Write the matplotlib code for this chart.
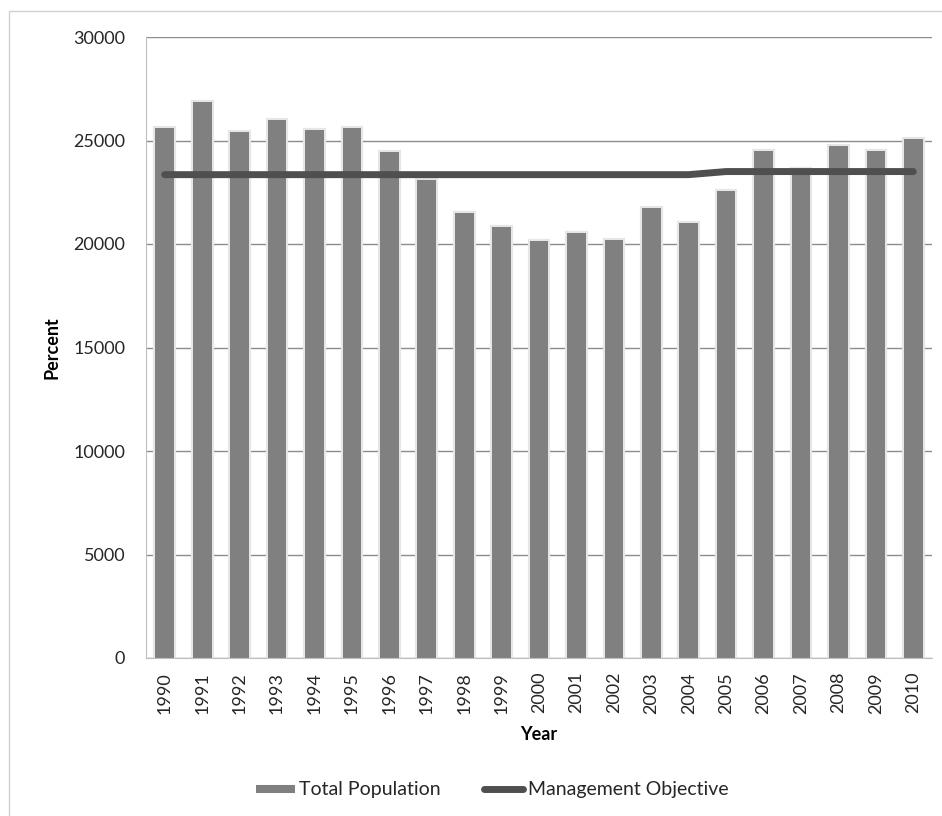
import matplotlib
matplotlib.use("Agg")
import matplotlib.pyplot as plt
import matplotlib.patheffects as pe
from matplotlib.patches import Rectangle
from matplotlib.lines import Line2D
import numpy as np

years = [str(y) for y in range(1990, 2011)]
total_population = [25600, 26850, 25420, 26000, 25520, 25620, 24450, 23090,
                    21480, 20840, 20160, 20550, 20210, 21720, 21030, 22560,
                    24490, 23600, 24750, 24490, 25080]
management_objective = [23350] * 15 + [23500] * 6
y_ticks = [0, 5000, 10000, 15000, 20000, 25000, 30000]

plt.rcParams['font.family'] = ['Lato', 'DejaVu Sans']

BAR_COLOR = '#808080'
LINE_COLOR = '#4f4f4f'
TEXT_COLOR = '#262626'

fig = plt.figure(figsize=(9.42, 8.16), dpi=100)
ax = fig.add_axes([146/942, 1 - 658/816, (932 - 146)/942, (658 - 37)/816])

x = np.arange(len(years))
bars = ax.bar(x, total_population, width=0.5, color=BAR_COLOR, zorder=2)
for b in bars:
    b.set_path_effects([pe.withStroke(linewidth=3, foreground='#e6e6e6')])

ax.plot(x, management_objective, color=LINE_COLOR, lw=5,
        solid_capstyle='round', zorder=3)

ax.set_xlim(-0.5, len(years) - 0.5)
ax.set_ylim(0, 30000)
ax.set_yticks(y_ticks)
ax.set_yticklabels([str(v) for v in y_ticks], fontsize=13, color=TEXT_COLOR)
ax.set_xticks(x)
ax.set_xticklabels(years, rotation=90, fontsize=13, color=TEXT_COLOR)
ax.tick_params(axis='y', length=0, pad=15)
ax.tick_params(axis='x', length=0, pad=10)
ax.yaxis.grid(True, color='#8c8c8c', lw=1.0, zorder=0)
ax.set_axisbelow(True)

for side in ['top', 'right']:
    ax.spines[side].set_visible(False)
ax.spines['left'].set_color('#bfbfbf')
ax.spines['bottom'].set_color('#bfbfbf')

ax.set_ylabel('Percent', fontsize=13, fontweight='bold', labelpad=9,
              color='black')
ax.set_xlabel('Year', fontsize=13, fontweight='bold', labelpad=9,
              color='black')

handles = [Line2D([0], [0], color=BAR_COLOR, lw=5.8, solid_capstyle='butt'),
           Line2D([0], [0], color=LINE_COLOR, lw=5, solid_capstyle='round')]
fig.legend(handles, ['Total Population', 'Management Objective'],
           loc='center', bbox_to_anchor=(492/942, 1 - 790/816), ncol=2,
           frameon=False, fontsize=14, handlelength=2.0, handletextpad=0.25,
           columnspacing=2.2, labelcolor=TEXT_COLOR)

# light outer frame around the chart area
fig.add_artist(Rectangle((9/942, -0.1), 1.2, (816 - 11)/816 + 0.1,
                         transform=fig.transFigure, fill=False,
                         edgecolor='#d0d0d0', lw=1.0, clip_on=False))

fig.savefig('out.png', dpi=100, facecolor='white')
